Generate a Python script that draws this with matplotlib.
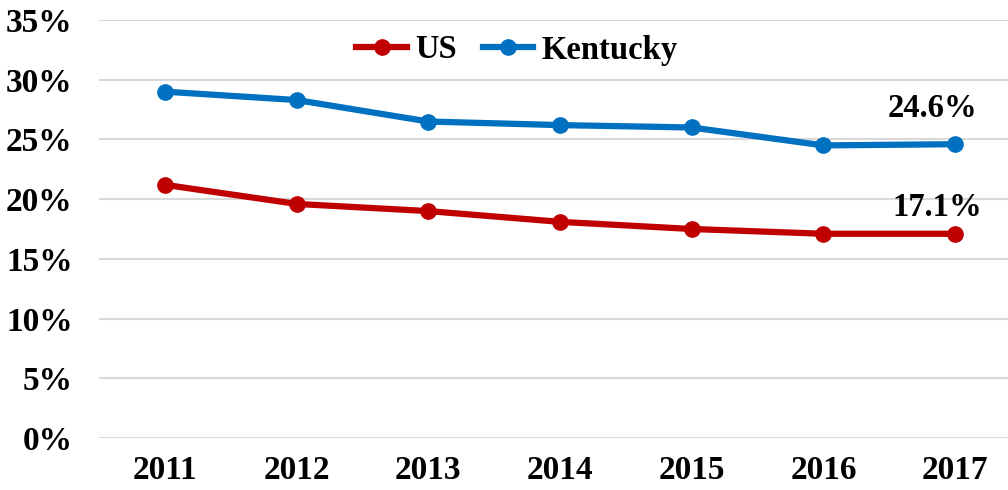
import matplotlib
matplotlib.use("Agg")
import matplotlib.pyplot as plt

years = ["2011", "2012", "2013", "2014", "2015", "2016", "2017"]
us = [21.2, 19.6, 19.0, 18.1, 17.5, 17.1, 17.1]
kentucky = [29.0, 28.3, 26.5, 26.2, 26.0, 24.5, 24.6]
yticks = [0, 5, 10, 15, 20, 25, 30, 35]

red = "#C00000"
blue = "#0070C0"

plt.rcParams["font.family"] = ["Liberation Serif", "DejaVu Serif"]
plt.rcParams["font.weight"] = "bold"

fig = plt.figure(figsize=(10.08, 4.9), dpi=100)
ax = fig.add_axes([99 / 1008, 52 / 490, 922 / 1008, 418 / 490])

x = list(range(len(years)))
ax.plot(x, us, color=red, lw=4.5, marker="o", ms=11, label="US")
ax.plot(x, kentucky, color=blue, lw=4.5, marker="o", ms=11, label="Kentucky")

# data labels on the last point only
ax.annotate("%.1f%%" % kentucky[-1], (x[-1], kentucky[-1]), xytext=(-16, 26),
            textcoords="offset points", ha="center", va="center",
            fontsize=23.5, fontweight="bold")
ax.annotate("%.1f%%" % us[-1], (x[-1], us[-1]), xytext=(-13, 19),
            textcoords="offset points", ha="center", va="center",
            fontsize=23.5, fontweight="bold")

ax.set_xlim(-0.5, len(years) - 0.5)
ax.set_ylim(0, 35)
ax.set_yticks(yticks)
ax.set_yticklabels(["%d%%" % v for v in yticks])
ax.set_xticks(x)
ax.set_xticklabels(years)
ax.tick_params(axis="both", length=0, labelsize=24)
ax.tick_params(axis="y", pad=19)
ax.tick_params(axis="x", pad=12)

ax.grid(axis="y", color="#D9D9D9", lw=1.5)
ax.set_axisbelow(True)
for s in ax.spines.values():
    s.set_visible(False)

leg = ax.legend(loc="center", bbox_to_anchor=(517 / 1008, 1 - 50 / 490),
                bbox_transform=fig.transFigure, ncol=2, frameon=False,
                fontsize=23.5, handlelength=1.55, columnspacing=0.8,
                handletextpad=0.25)

fig.savefig("out.png", dpi=100)
